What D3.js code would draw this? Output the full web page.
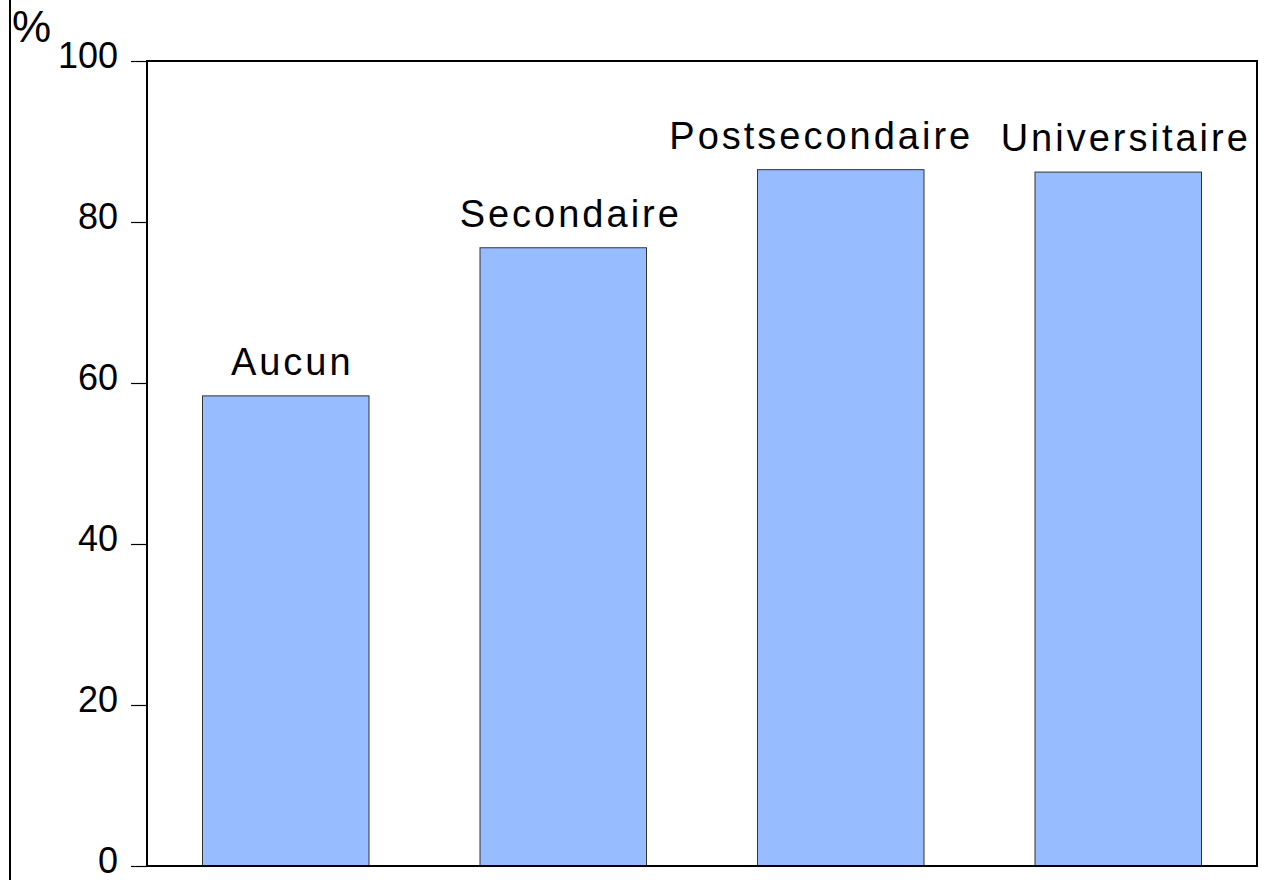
<!DOCTYPE html>
<html>
<head>
<meta charset="utf-8">
<script src="https://cdn.jsdelivr.net/npm/d3@7"></script>
<style>
  html, body { margin: 0; padding: 0; background: #fff; }
  svg { display: block; }
  text { font-family: "Liberation Sans", Arial, sans-serif; fill: #000; }
</style>
</head>
<body>
<svg id="chart" width="1268" height="880"></svg>
<script>
// Data
const categories = ["Aucun", "Secondaire", "Postsecondaire", "Universitaire"];
const values = [58.4, 76.8, 86.5, 86.2];
const yTicks = [0, 20, 40, 60, 80, 100];
const yUnit = "%";

// Layout
const W = 1268, H = 880;
const plot = { left: 147, right: 1257, top: 61, bottom: 866 };
const labelShift = [6.5, 7.5, -19.5, 7.5];

const svg = d3.select("#chart");

const x = d3.scaleBand()
  .domain(categories)
  .range([plot.left, plot.right])
  .paddingInner(0.4)
  .paddingOuter(0.2);

const y = d3.scaleLinear()
  .domain([0, 100])
  .range([plot.bottom, plot.top]);

// left outer rule
svg.append("line")
  .attr("x1", 10).attr("x2", 10)
  .attr("y1", 0).attr("y2", H)
  .attr("stroke", "#000").attr("stroke-width", 2);

// bars
svg.append("g").selectAll("rect")
  .data(categories)
  .join("rect")
  .attr("x", d => x(d))
  .attr("width", x.bandwidth())
  .attr("y", (d, i) => y(values[i]))
  .attr("height", (d, i) => y(0) - y(values[i]))
  .attr("fill", "#97BCFF")
  .attr("stroke", "#333")
  .attr("stroke-width", 1);

// bar labels
svg.append("g").selectAll("text")
  .data(categories)
  .join("text")
  .attr("x", (d, i) => x(d) + x.bandwidth() / 2 + labelShift[i])
  .attr("y", (d, i) => y(values[i]) - 21)
  .attr("text-anchor", "middle")
  .attr("font-size", 38)
  .attr("letter-spacing", "3px")
  .text(d => d);

// plot frame
svg.append("rect")
  .attr("x", plot.left).attr("y", plot.top)
  .attr("width", plot.right - plot.left)
  .attr("height", plot.bottom - plot.top)
  .attr("fill", "none")
  .attr("stroke", "#000")
  .attr("stroke-width", 2);

// y axis
const yAxis = d3.axisLeft(y)
  .tickValues(yTicks)
  .tickSize(16)
  .tickPadding(13)
  .tickFormat(d3.format("d"));

const ga = svg.append("g")
  .attr("transform", `translate(${plot.left},0)`)
  .call(yAxis);
ga.select(".domain").remove();
ga.selectAll(".tick line").attr("stroke", "#000").attr("stroke-width", 1.2);
ga.selectAll(".tick text")
  .attr("font-family", "'Liberation Sans', Arial, sans-serif")
  .attr("font-size", 36)
  .attr("fill", "#000")
  .attr("dy", "0.19em");

// unit label
svg.append("text")
  .attr("x", 12).attr("y", 42)
  .attr("font-size", 44)
  .text(yUnit);
</script>
</body>
</html>
